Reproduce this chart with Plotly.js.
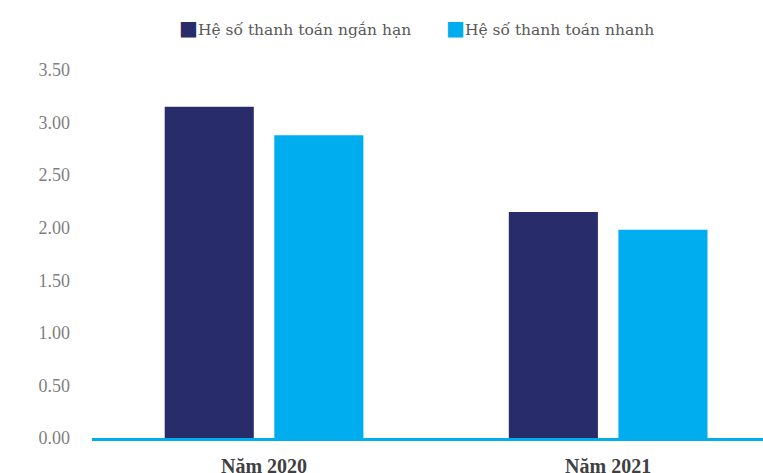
<!DOCTYPE html>
<html><head><meta charset="utf-8">
<script src="https://cdn.plot.ly/plotly-3.0.1.min.js"></script>
<style>html,body{margin:0;padding:0;background:#fff}#chart{width:763px;height:473px}</style>
</head><body><div id="chart"></div>
<script>
const categories = ["Năm 2020", "Năm 2021"];
const seriesNames = ["Hệ số thanh toán ngắn hạn", "Hệ số thanh toán nhanh"];
const seriesColors = ['#282C6B', '#00AEEF'];
const shortTerm = [3.15, 2.15];
const quick = [2.88, 1.98];
const yTicks = [0, 0.5, 1, 1.5, 2, 2.5, 3, 3.5];

const serif = "Liberation Serif";
const data = [
  {type:'bar', x:categories, y:shortTerm, name:seriesNames[0], marker:{color:seriesColors[0]}},
  {type:'bar', x:categories, y:quick, name:seriesNames[1], marker:{color:seriesColors[1]}}
];
const legendX = [0.127, 0.525];
const annotations = seriesNames.map((n, i) => ({
  xref:'paper', yref:'paper', x:legendX[i], y:1.114, xanchor:'left', yanchor:'middle',
  showarrow:false,
  text:'<span style="color:' + seriesColors[i] + ';font-size:20px;font-family:DejaVu Sans">■</span>' + n,
  font:{family:'DejaVu Serif', size:15.5, color:'#595959'}
}));
const layout = {
  width:763, height:473,
  margin:{l:92, r:0, t:70, b:35},
  paper_bgcolor:'#fff', plot_bgcolor:'#fff',
  barmode:'group', bargap:0.363, bargroupgap:0.187,
  showlegend:false,
  xaxis:{range:[-0.5,1.45], showline:true, linecolor:'#00AEEF', linewidth:3,
    ticks:'', tickfont:{family:serif, size:20, color:'#404040', weight:'bold'}, ticklabelstandoff:8, fixedrange:true},
  yaxis:{range:[0,3.5], tickvals:yTicks, tickformat:'.2f', showgrid:false, zeroline:false, showline:false,
    ticks:'', tickfont:{family:serif, size:18, color:'#7f7f7f'}, ticklabelstandoff:21},
  font:{family:serif},
  annotations:annotations
};
Plotly.newPlot('chart', data, layout, {displayModeBar:false, staticPlot:true});
</script></body></html>
